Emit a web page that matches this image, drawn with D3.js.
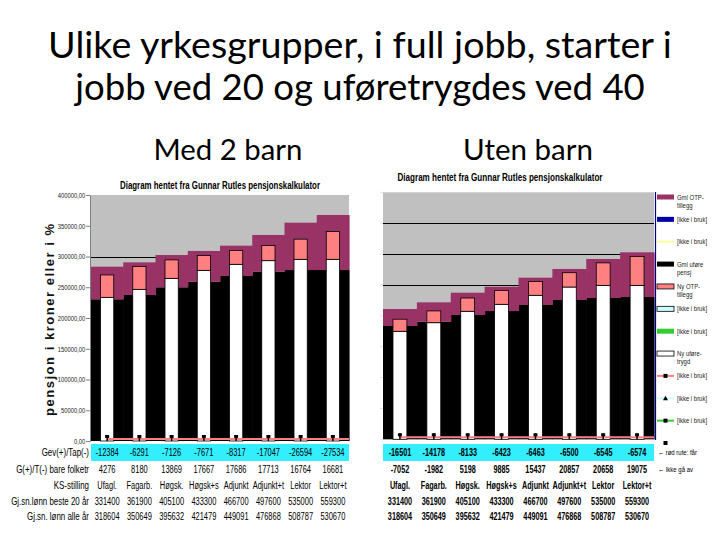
<!DOCTYPE html>
<html><head><meta charset="utf-8">
<script src="https://cdn.jsdelivr.net/npm/d3@7"></script>
<style>body{margin:0;background:#fff} svg{display:block}</style>
</head><body><svg id="c" width="720" height="540"></svg>
<script>
// ---------------- DATA ----------------
const categories = ["Ufagl.","Fagarb.","Høgsk.","Høgsk+s","Adjunkt","Adjunkt+t","Lektor","Lektor+t"];
const yTicks = [0,50000,100000,150000,200000,250000,300000,350000,400000];

// Med 2 barn
const gmlUforeMed = [230400,237400,249900,259000,268300,275300,278000,278000];
const gmlOtpMed   = [53000,53100,52500,50000,49300,59700,77000,89500];
const nyUforeMed  = [233600,246600,264500,277500,287300,293200,295400,295400];
const nyOtpMed    = [36400,37200,30000,24100,22300,24600,32800,45100];
const gridMed     = [300000];

// Uten barn
const gmlUforeUten = [183500,190400,201300,207700,217500,225600,228800,230400];
const gmlOtpUten   = [27500,31400,36100,39400,44200,50200,63200,72400];
const nyUforeUten  = [174900,188800,207300,218600,233200,246600,249300,249300];
const nyOtpUten    = [19600,19100,21500,22300,22300,23200,36400,46900];
const gridUten     = [250000,300000,350000];

// unused line series (drawn at zero)
const ikkeIBruk = [0,0,0,0,0,0,0,0];

// table rows
const rowLabels = ["Gev(+)/Tap(-)","G(+)/T(-) bare folketr","KS-stilling","Gj.sn.lønn beste 20 år","Gj.sn. lønn alle år"];
const gevMed      = [-12384,-6291,-7126,-7671,-8317,-17047,-26594,-27534];
const folketrMed  = [4276,8180,13869,17667,17686,17713,16764,16681];
const gevUten     = [-16501,-14178,-8133,-6423,-6463,-6500,-6545,-6574];
const folketrUten = [-7052,-1982,5198,9885,15437,20857,20658,19075];
const lonnBeste20 = [331400,361900,405100,433300,466700,497600,535000,559300];
const lonnAlle    = [318604,350649,395632,421479,449091,476868,508787,530670];

const legendItems = [
  {label:["Gml OTP-","tillegg"], type:"rect", fill:"#993366"},
  {label:["[ikke i bruk]"], type:"rect", fill:"#0000aa"},
  {label:["[ikke i bruk]"], type:"line", fill:"#ffff99"},
  {label:["Gml uføre","pensj"], type:"rect", fill:"#000000"},
  {label:["Ny OTP-","tillegg"], type:"rect", fill:"#ff8080", stroke:"#000"},
  {label:["[ikke i bruk]"], type:"rect", fill:"#ccffff", stroke:"#000"},
  {label:["[ikke i bruk]"], type:"rect", fill:"#33cc33"},
  {label:["Ny uføre-","trygd"], type:"rect", fill:"#ffffff", stroke:"#000"},
  {label:["[ikke i bruk]"], type:"marker", fill:"#ff8080", marker:"square"},
  {label:["[ikke i bruk]"], type:"marker", fill:"#ccffff", marker:"triangle"},
  {label:["[ikke i bruk]"], type:"marker", fill:"#33cc33", marker:"square"},
  {label:[""], type:"marker", fill:"none", marker:"square"}
];
const tableNotes = ["← rød rute: får","← Ikke gå av"];

// ---------------- DRAW ----------------
const svg = d3.select("#c");
const sans = "'Liberation Sans',Arial,sans-serif";
const titleFont = "Lato,'Open Sans',sans-serif";

function fitText(sel, w){
  const len = sel.node().getComputedTextLength();
  const fs = parseFloat(sel.attr("font-size"));
  sel.attr("font-size", fs*w/len);
}
// condensed text via horizontal scale transform
function ctext(parent, x, y, txt, o){
  const g = parent.append("g").attr("transform",`translate(${x},${y}) scale(${o.f},1)`);
  return g.append("text").attr("x",0).attr("y",0).attr("text-anchor",o.anchor||"middle")
    .attr("font-family",sans).attr("font-size",o.size).attr("font-weight",o.weight||"normal")
    .attr("fill",o.fill||"#000").text(txt);
}

fitText(svg.append("text").attr("x",360).attr("y",58).attr("text-anchor","middle")
  .attr("font-family",titleFont).attr("font-size",32).attr("fill","#000")
  .text("Ulike yrkesgrupper, i full jobb, starter i"), 624);
fitText(svg.append("text").attr("x",360).attr("y",100).attr("text-anchor","middle")
  .attr("font-family",titleFont).attr("font-size",32).attr("fill","#000")
  .text("jobb ved 20 og uføretrygdes ved 40"), 570);
fitText(svg.append("text").attr("x",228).attr("y",160).attr("text-anchor","middle")
  .attr("font-family",titleFont).attr("font-size",27).attr("fill","#000")
  .text("Med 2 barn"), 149);
fitText(svg.append("text").attr("x",528).attr("y",160).attr("text-anchor","middle")
  .attr("font-family",titleFont).attr("font-size",27).attr("fill","#000")
  .text("Uten barn"), 130);

function drawChart(cfg){
  const g = svg.append("g");
  const x = d3.scaleBand().domain(categories).range([cfg.x0,cfg.x1]).paddingInner(0).paddingOuter(0);
  const y = d3.scaleLinear().domain([0,400000]).range([cfg.yBottom,cfg.yTop]);
  const bw = x.bandwidth();
  const barW = bw*0.41;

  // subtitle
  g.append("text").attr("x",cfg.subX).attr("y",cfg.subY).attr("text-anchor","middle")
    .attr("font-family",sans).attr("font-weight","bold")
    .attr("font-size",10).attr("textLength",cfg.subW).attr("lengthAdjust","spacingAndGlyphs")
    .text("Diagram hentet fra Gunnar Rutles pensjonskalkulator");

  // plot background
  g.append("rect").attr("x",cfg.x0).attr("y",y(400000)).attr("width",cfg.x1-cfg.x0)
    .attr("height",y(0)-y(400000)).attr("fill","#c0c0c0");
  // gridlines
  g.selectAll(".grid").data(cfg.grid).join("line")
    .attr("x1",cfg.x0).attr("x2",cfg.x1).attr("y1",d=>Math.round(y(d))+0.5).attr("y2",d=>Math.round(y(d))+0.5)
    .attr("stroke","#000").attr("stroke-width",1);

  const cats = categories.map((c,i)=>({c, b:cfg.black[i], m:cfg.magenta[i], w:cfg.white[i], p:cfg.pink[i]}));
  // old: black + magenta full-width columns
  g.selectAll(".blk").data(cats).join("rect")
    .attr("x",d=>x(d.c)).attr("width",bw+0.6)
    .attr("y",d=>y(d.b)).attr("height",d=>y(0)-y(d.b)).attr("fill","#000");
  g.selectAll(".mag").data(cats).join("rect")
    .attr("x",d=>x(d.c)).attr("width",bw+0.6)
    .attr("y",d=>y(d.b+d.m)).attr("height",d=>y(d.b)-y(d.b+d.m)).attr("fill","#993366");
  // new: white + pink narrow bars
  g.selectAll(".wht").data(cats).join("rect")
    .attr("x",d=>x(d.c)+(bw-barW)/2).attr("width",barW)
    .attr("y",d=>y(d.w)).attr("height",d=>y(0)-y(d.w)).attr("fill","#fff")
    .attr("stroke","#000").attr("stroke-width",0.8);
  g.selectAll(".pnk").data(cats).join("rect")
    .attr("x",d=>x(d.c)+(bw-barW)/2).attr("width",barW)
    .attr("y",d=>y(d.w+d.p)).attr("height",d=>y(d.w)-y(d.w+d.p)).attr("fill","#ff8080")
    .attr("stroke","#000").attr("stroke-width",0.8);

  // unused line series at zero
  const line = d3.line().x((d,i)=>x(categories[i])+bw/2).y(d=>y(d)-2);
  g.append("path").datum(ikkeIBruk).attr("d",line).attr("fill","none")
    .attr("stroke","#ff8080").attr("stroke-width",2);
  g.append("line").attr("x1",x(categories[7])+bw/2).attr("x2",cfg.x1)
    .attr("y1",y(0)-2).attr("y2",y(0)-2).attr("stroke","#ff8080").attr("stroke-width",2);
  g.selectAll(".mk").data(ikkeIBruk).join("rect")
    .attr("x",(d,i)=>x(categories[i])+bw/2-2).attr("y",d=>y(d)-6).attr("width",4).attr("height",3).attr("fill","#000");
  g.selectAll(".mks").data(ikkeIBruk).join("line")
    .attr("x1",(d,i)=>x(categories[i])+bw/2).attr("x2",(d,i)=>x(categories[i])+bw/2)
    .attr("y1",d=>y(d)-6).attr("y2",d=>y(d)).attr("stroke","#000").attr("stroke-width",1.5);

  // y axis
  if(cfg.axisLabels){
    const ax = d3.axisLeft(y).tickValues(yTicks).tickSize(4)
      .tickFormat(d=>d3.format(".2f")(d).replace(".",","));
    const a = g.append("g").attr("transform",`translate(${cfg.x0-1},0)`).call(ax);
    a.select(".domain").attr("stroke","#808080");
    a.selectAll(".tick line").attr("stroke","#808080");
    a.selectAll(".tick text").attr("font-family",sans).attr("font-size",7.5).attr("fill","#222")
      .attr("x",-6).attr("transform","scale(0.78,1)");
    g.append("text").attr("transform",`translate(${cfg.x0-37},${(y(0)+y(400000))/2+2}) rotate(-90)`)
      .attr("text-anchor","middle").attr("font-family",sans)
      .attr("font-weight","bold").attr("font-size",13).attr("textLength",192).attr("lengthAdjust","spacing")
      .attr("fill","#111")
      .text("pensjon i kroner eller i %");
  } else {
    g.selectAll(".tk").data(yTicks).join("line")
      .attr("x1",cfg.x0-3).attr("x2",cfg.x0).attr("y1",d=>y(d)).attr("y2",d=>y(d))
      .attr("stroke","#e0e0e0");
  }

  // cyan band
  g.append("rect").attr("x",cfg.x0).attr("y",444).attr("width",cfg.x1-cfg.x0).attr("height",17).attr("fill","#33eeff");

  // table
  const rows = [cfg.gev, cfg.folketr, categories, lonnBeste20, lonnAlle];
  const rowY = [456,473,489,505,520];
  rows.forEach((vals,ri)=>{
    vals.forEach((v,i)=>{
      ctext(g, x(categories[i])+bw/2, rowY[ri], v, {f:cfg.bold?0.66:0.68, size:11, weight:cfg.bold?"bold":"normal"});
    });
    if(cfg.rowLabels){
      ctext(g, cfg.x0-2, rowY[ri], rowLabels[ri], {f:0.72, size:11, anchor:"end"});
    }
  });
  if(cfg.notes){
    cfg.notes.forEach((t,i)=>{
      ctext(g, cfg.x1+4, rowY[i]-1, t, {f:0.8, size:7.5, anchor:"start"});
    });
  }
  return {x,y};
}

drawChart({x0:91,x1:349,yTop:195,yBottom:441,black:gmlUforeMed,magenta:gmlOtpMed,white:nyUforeMed,pink:nyOtpMed,
  grid:gridMed,axisLabels:true,gev:gevMed,folketr:folketrMed,rowLabels:true,bold:false,subX:220,subY:189,subW:200});
drawChart({x0:383,x1:654,yTop:192.3,yBottom:439.3,black:gmlUforeUten,magenta:gmlOtpUten,white:nyUforeUten,pink:nyOtpUten,
  grid:gridUten,axisLabels:false,gev:gevUten,folketr:folketrUten,rowLabels:false,bold:true,subX:500,subY:181,subW:205,notes:tableNotes});

// right chart legend border line
svg.append("line").attr("x1",655.5).attr("x2",655.5).attr("y1",192).attr("y2",440).attr("stroke","#000080").attr("stroke-width",1.2);

// legend
const legY = d3.scalePoint().domain(d3.range(legendItems.length)).range([197,443]);
const lg = svg.append("g");
legendItems.forEach((it,i)=>{
  const yy = legY(i);
  if(it.type==="rect"){
    lg.append("rect").attr("x",657).attr("y",yy-2.5).attr("width",17).attr("height",5)
      .attr("fill",it.fill).attr("stroke",it.stroke||"none").attr("stroke-width",0.8);
  } else if(it.type==="line"){
    lg.append("line").attr("x1",657).attr("x2",674).attr("y1",yy).attr("y2",yy).attr("stroke",it.fill).attr("stroke-width",2);
  } else {
    if(it.fill!=="none") lg.append("line").attr("x1",657).attr("x2",674).attr("y1",yy).attr("y2",yy).attr("stroke",it.fill).attr("stroke-width",2);
    if(it.marker==="square") lg.append("rect").attr("x",663.5).attr("y",yy-2).attr("width",4).attr("height",4).attr("fill","#000");
    else lg.append("path").attr("d",`M665.5,${yy-2.5}L668,${yy+2}L663,${yy+2}Z`).attr("fill","#000");
  }
  it.label.forEach((t,k)=>{
    if(t) ctext(lg, 677, yy+2.5+k*8, t, {f:0.85, size:7, anchor:"start", fill:"#222"});
  });
});
</script></body></html>
